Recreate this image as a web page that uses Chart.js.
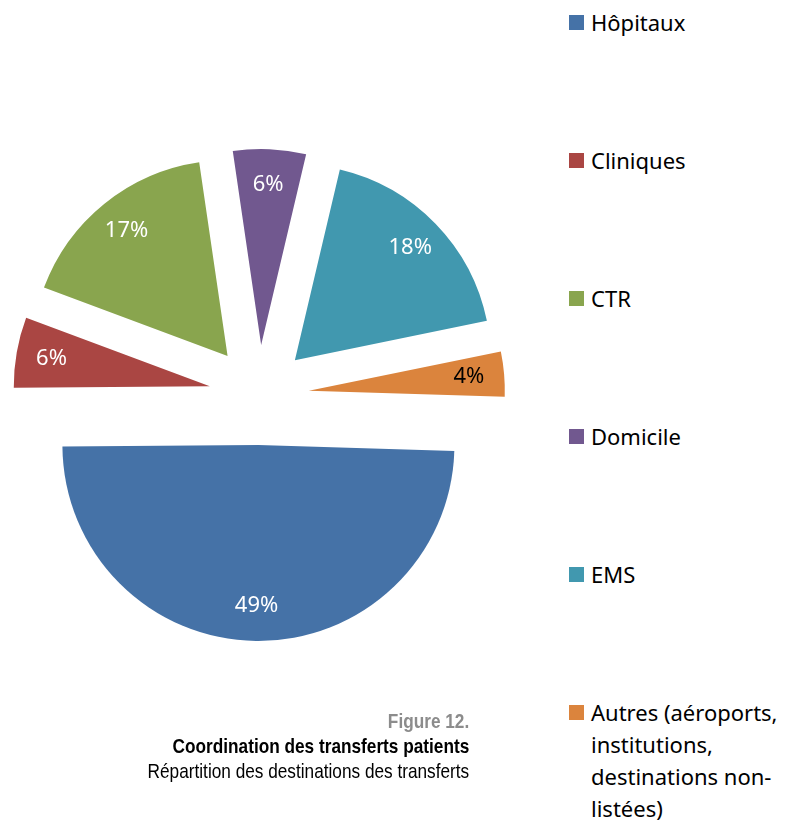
<!DOCTYPE html>
<html lang="fr">
<head>
<meta charset="utf-8">
<title>Coordination des transferts patients</title>
<script src="https://cdn.jsdelivr.net/npm/chart.js@4/dist/chart.umd.min.js"></script>
<style>
html, body { margin: 0; padding: 0; background: #fff; }
body { width: 791px; height: 823px; position: relative; overflow: hidden; }
#pie { position: absolute; left: 0; top: 0; width: 518px; height: 790px; }
#legend { position: absolute; left: 569px; top: 0; font-family: 'Noto Sans', Lato, sans-serif; font-size: 22px; color: #000; }
.item { position: absolute; left: 0; width: 222px; }
.item .box { position: absolute; left: 0; top: 9px; width: 15px; height: 15px; }
.item .txt { position: absolute; left: 22px; top: 0; width: 200px; line-height: 32px; }
#caption { position: absolute; right: 322px; top: 708px; text-align: right; line-height: 25px;
	font-family: 'Liberation Sans', Arial, sans-serif; font-size: 21px; color: #000; white-space: nowrap;
	transform: scaleX(0.82); transform-origin: right top; }
#caption .fig { color: #8c8c8c; font-weight: bold; }
#caption .title { font-weight: bold; }
</style>
</head>
<body>
<div id="pie"><canvas id="chart"></canvas></div>
<div id="legend"></div>
<div id="caption">
	<div class="fig">Figure 12.</div>
	<div class="title">Coordination des transferts patients</div>
	<div>Répartition des destinations des transferts</div>
</div>
<script>
// destinations des transferts (part en %)
var categories = ['Hôpitaux', 'Cliniques', 'CTR', 'Domicile', 'EMS', 'Autres (aéroports, institutions, destinations non-listées)'];
var shares = [49.4, 5.8, 17.0, 6.0, 18.1, 3.7];

var colors = ['#4572A7', '#AA4643', '#89A54E', '#71588F', '#4198AF', '#DB843D'];
var labelColors = ['#fff', '#fff', '#fff', '#fff', '#fff', '#000'];

// slices pulled away from the centre, like the exploded pie in Excel
var explodePlugin = {
	id: 'explode',
	afterDatasetsUpdate: function(chart, args, opts) {
		chart.getDatasetMeta(0).data.forEach(function(arc) {
			var mid = (arc.startAngle + arc.endAngle) / 2;
			arc.x += Math.cos(mid) * opts.distance;
			arc.y += Math.sin(mid) * opts.distance;
		});
	}
};

var pctLabels = {
	id: 'pctLabels',
	afterDatasetsDraw: function(chart, args, opts) {
		var ctx = chart.ctx;
		var values = chart.data.datasets[0].data;
		ctx.save();
		ctx.font = opts.font;
		ctx.textAlign = 'center';
		ctx.textBaseline = 'middle';
		chart.getDatasetMeta(0).data.forEach(function(arc, i) {
			var mid = (arc.startAngle + arc.endAngle) / 2;
			var r = arc.outerRadius * opts.position;
			ctx.fillStyle = labelColors[i];
			ctx.fillText(Math.round(values[i]) + '%', arc.x + Math.cos(mid) * r, arc.y + Math.sin(mid) * r);
		});
		ctx.restore();
	}
};

new Chart(document.getElementById('chart'), {
	type: 'pie',
	data: {
		labels: categories,
		datasets: [{
			data: shares,
			backgroundColor: colors,
			borderWidth: 0,
			hoverOffset: 0
		}]
	},
	options: {
		responsive: true,
		maintainAspectRatio: false,
		animation: false,
		rotation: 91.75,
		radius: 196,
		layout: {padding: 0},
		events: [],
		plugins: {
			legend: {display: false},
			tooltip: {enabled: false},
			explode: {distance: 50},
			pctLabels: {font: '22px "Noto Sans", Lato, sans-serif', position: 0.82}
		}
	},
	plugins: [explodePlugin, pctLabels]
});

// legend on the right, one entry every 138px
var legend = document.getElementById('legend');
categories.forEach(function(name, i) {
	var item = document.createElement('div');
	item.className = 'item';
	item.style.top = (6 + i * 138) + 'px';
	var box = document.createElement('div');
	box.className = 'box';
	box.style.background = colors[i];
	var txt = document.createElement('div');
	txt.className = 'txt';
	txt.textContent = name;
	item.appendChild(box);
	item.appendChild(txt);
	legend.appendChild(item);
});
</script>
</body>
</html>
